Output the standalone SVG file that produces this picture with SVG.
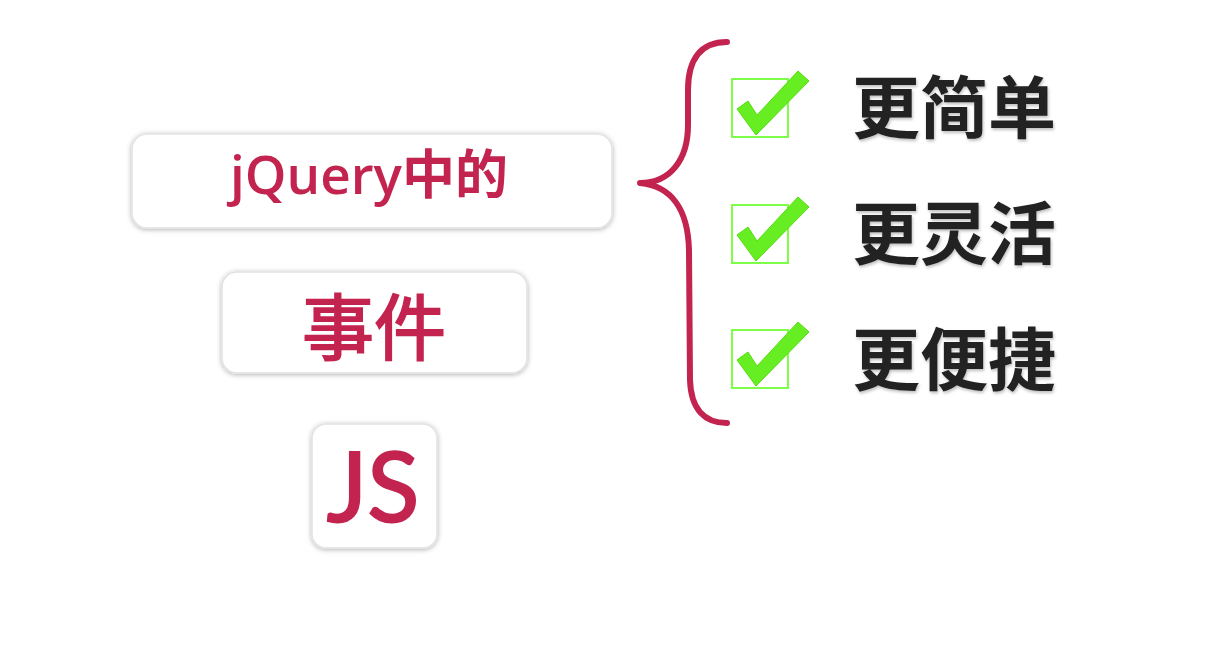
<svg xmlns="http://www.w3.org/2000/svg" width="1231" height="664" viewBox="0 0 1231 664">
<defs>
<filter id="sh" x="-10%" y="-20%" width="120%" height="140%">
<feDropShadow dx="0" dy="1" stdDeviation="2.5" flood-color="#000" flood-opacity="0.3"/>
</filter>
<filter id="ts" x="-5%" y="-10%" width="110%" height="120%">
<feDropShadow dx="1" dy="2" stdDeviation="1.5" flood-color="#000" flood-opacity="0.25"/>
</filter>
<g id="chk">
<rect x="0" y="0" width="56" height="58" fill="none" stroke="#7dff4a" stroke-width="2"/>
<path d="M5,30 L16,22 L25,36 L66,-8 L77,2 L24,56 Z" fill="#66ee22" stroke="#55dd11" stroke-width="1" stroke-linejoin="round"/>
</g>
</defs>
<style>
.box{fill:#fff;stroke:#e2e2e2;stroke-width:1.5;filter:url(#sh)}
.red{fill:#c3244f;font-family:"Open Sans","Noto Sans CJK SC",sans-serif;text-anchor:middle;font-weight:600}
.blk{fill:#222;font-family:"Noto Sans CJK SC",sans-serif;font-weight:bold;font-size:68px;filter:url(#ts)}
</style>
<rect width="1231" height="664" fill="#fff"/>
<g id="node-jquery">
<rect class="box" x="132" y="134" width="480" height="94" rx="15"/>
<text class="red" x="369" y="194" font-size="53">jQuery中的</text>
</g>
<g id="node-event">
<rect class="box" x="222" y="272" width="305" height="101" rx="15"/>
<text class="red" x="374" y="354" font-size="72" style="font-weight:400" stroke="#c3244f" stroke-width="1.8">事件</text>
</g>
<g id="node-js">
<rect class="box" x="312" y="424" width="125" height="124" rx="14"/>
<text class="red" x="373" y="522" font-size="96" style="font-family:Lato,'Open Sans',sans-serif;font-weight:400" stroke="#c3244f" stroke-width="2">JS</text>
</g>
<g id="connectors">
<path d="M727,42 C700,42 688,60 688,90 L688,125 C688,160 670,183 640,183 C672,186 688,210 689,250 L690,380 C691,410 705,423 727,423" fill="none" stroke="#c3244f" stroke-width="6" stroke-linecap="round" stroke-linejoin="round"/>
</g>
<g id="item-1">
<use href="#chk" x="732" y="79"/>
<text class="blk" x="852" y="133">更简单</text>
</g>
<g id="item-2">
<use href="#chk" x="732" y="205"/>
<text class="blk" x="852" y="259">更灵活</text>
</g>
<g id="item-3">
<use href="#chk" x="732" y="330"/>
<text class="blk" x="852" y="385">更便捷</text>
</g>
</svg>
